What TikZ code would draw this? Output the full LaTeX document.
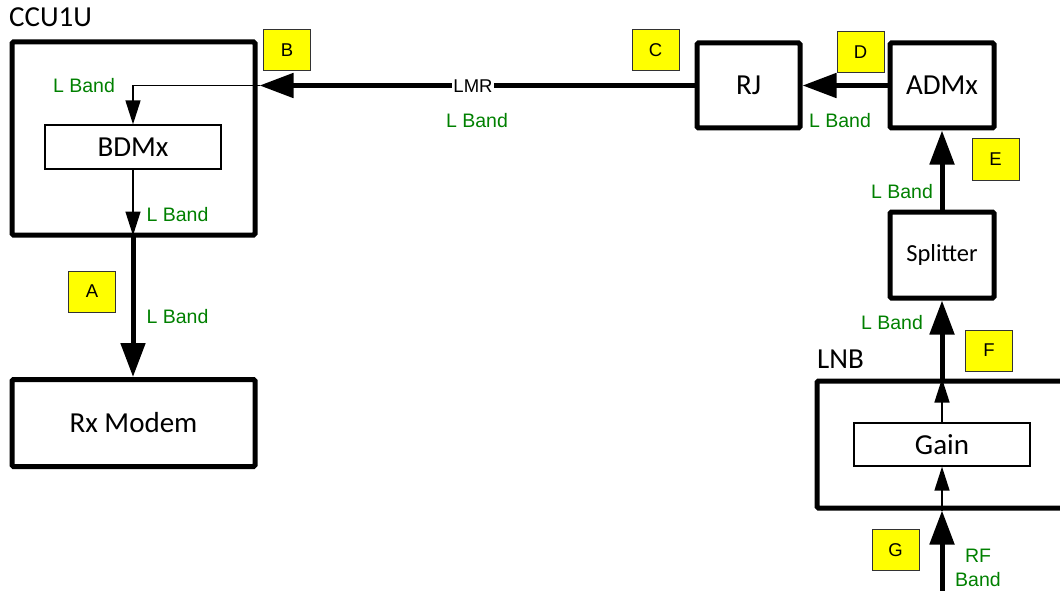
\documentclass[tikz,border=0pt]{standalone}
\usepackage{fontspec}
\setmainfont{Carlito}
\newfontfamily\arial{Liberation Sans}
\usetikzlibrary{arrows.meta}
\definecolor{lbl}{RGB}{0,128,0}
\definecolor{tagfill}{RGB}{255,255,0}
\begin{document}
\begin{tikzpicture}[x=1pt,y=-1pt,
  bigbox/.style={draw,line width=5pt,rounded corners=1.5pt,inner sep=0pt,font=\fontsize{29}{33}\selectfont},
  smallbox/.style={draw,line width=1.3pt,inner sep=0pt,font=\fontsize{29}{33}\selectfont},
  tagbox/.style={draw=black!80,line width=1pt,fill=tagfill,minimum width=47pt,minimum height=41pt,inner sep=0pt,font=\arial\fontsize{18.5}{20}\selectfont},
  band/.style={text=lbl,font=\arial\fontsize{19.5}{24}\selectfont,inner sep=0pt},
  title/.style={anchor=base west,inner sep=0pt,font=\fontsize{29}{33}\selectfont},
  thickarrow/.style={line width=5pt,-{Triangle[length=34pt,width=24pt]}},
  thinarrow/.style={line width=1.4pt,-{Triangle[length=24pt,width=15pt]}},
]
\clip (0,0) rectangle (1060,591);
% boxes
\node[bigbox,minimum width=243pt,minimum height=193pt] (ccu) at (133.5,138.5) {};
\node[title] (ccut) at (9,27) {CCU1U};
\node[smallbox,minimum width=176pt,minimum height=44pt] (bdmx) at (133,147) {BDMx};
\node[bigbox,minimum width=243pt,minimum height=87pt] (rx) at (133.5,423) {Rx Modem};
\node[bigbox,minimum width=103pt,minimum height=85pt] (rj) at (748.5,85.5) {RJ};
\node[bigbox,minimum width=104pt,minimum height=85pt] (admx) at (942,85.5) {ADMx};
\node[bigbox,minimum width=104pt,minimum height=86pt,font=\fontsize{24.5}{28}\selectfont] (split) at (942,255) {Splitter};
\node[bigbox,minimum width=263pt,minimum height=127pt] (lnb) at (948.5,444.5) {};
\node[title] (lnbt) at (817,368) {LNB};
\node[smallbox,minimum width=176pt,minimum height=43pt] (gain) at (942,444.5) {Gain};
% connectors
\coordinate (bin) at ([xshift=2pt]ccu.east |- rj.west);
\draw[thickarrow] (rj.west) -- (bin);
\node[fill=white,inner sep=1pt,font=\arial\fontsize{18.5}{20}\selectfont] (lmr) at (473,86) {LMR};
\node[band] (lmrb) at (477,121) {L Band};
\draw[thinarrow] (bin) -| (bdmx.north);
\node[band] (l1) at (84,86) {L Band};
\coordinate (ccubot) at ([yshift=2pt]bdmx.south |- ccu.south);
\draw[thinarrow] (bdmx.south) -- (ccubot);
\node[band] (l2) at (177.5,214.5) {L Band};
\draw[thickarrow] (ccubot) -- (bdmx.south |- rx.north);
\node[band] (l3) at (177.5,317) {L Band};
\draw[thickarrow] (admx.west) -- (rj.east);
\node[band] (l4) at (840,121) {L Band};
\draw[thickarrow] (split.north) -- (admx.south);
\node[band] (l5) at (902,192) {L Band};
\draw[thickarrow] (split.south |- lnb.north) -- (split.south);
\node[band] (l6) at (892,323) {L Band};
\draw[thinarrow] (gain.north) -- (gain.north |- lnb.north);
\draw[thinarrow] (gain.south |- lnb.south) -- (gain.south);
\coordinate (rfin) at (942,596);
\draw[thickarrow] (rfin) -- (split.south |- lnb.south);
\node[band,align=center] (rf) at (978,568) {RF\\Band};
% tags
\node[tagbox] (tA) at (92,291.5) {A};
\node[tagbox] (tB) at (287,50.5) {B};
\node[tagbox] (tC) at (655.5,50) {C};
\node[tagbox] (tD) at (860.5,52) {D};
\node[tagbox] (tE) at (995.5,159.5) {E};
\node[tagbox] (tF) at (989,350.5) {F};
\node[tagbox] (tG) at (895.5,550) {G};
\end{tikzpicture}
\end{document}
